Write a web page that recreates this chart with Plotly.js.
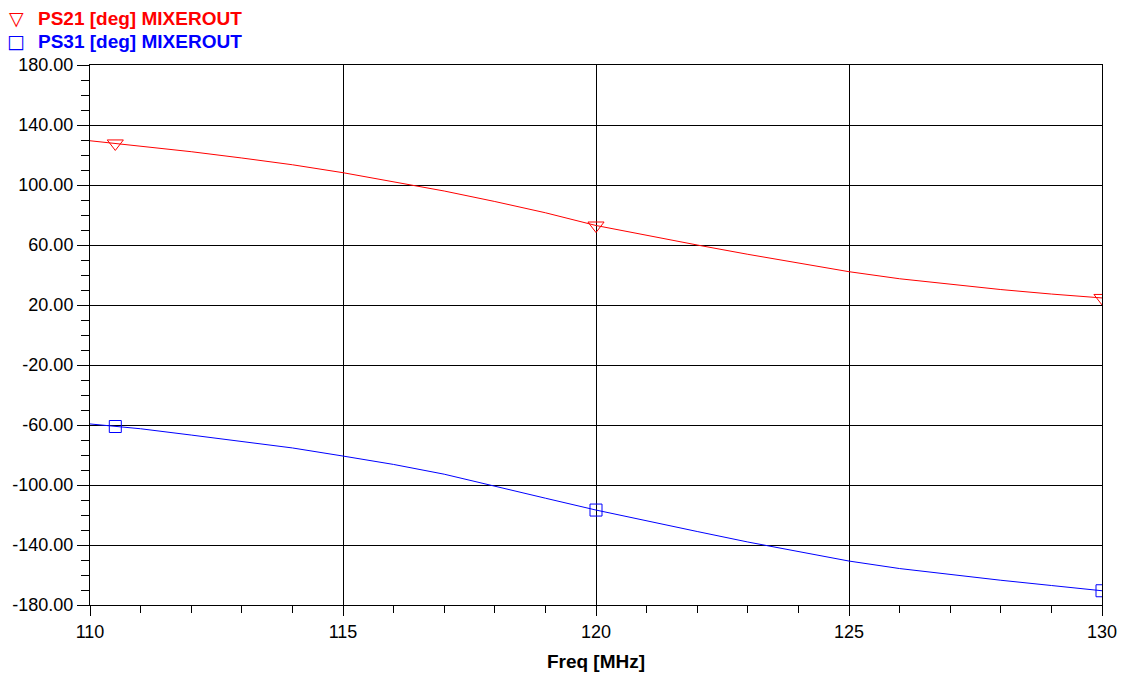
<!DOCTYPE html>
<html>
<head>
<meta charset="utf-8">
<script src="https://cdn.plot.ly/plotly-3.0.1.min.js"></script>
<style>html,body{margin:0;padding:0;background:#fff;}#chart{width:1123px;height:677px;}</style>
</head>
<body>
<div id="chart"></div>
<script>
// Data
const freq = [110,111,112,113,114,115,116,117,118,119,120,121,122,123,124,125,126,127,128,129,130];
const ps21 = [129.5,126,122.2,118,113.5,108.2,102.3,96,89,81.5,73,66.3,60,53.8,47.8,42.2,37.5,33.7,30.3,27.3,24.7];
const ps31 = [-59.3,-62.5,-66.7,-70.8,-75.3,-80.7,-86.3,-92.8,-101,-108.8,-116.7,-124,-131,-138,-144.5,-150.7,-155.7,-159.8,-163.5,-167,-170.5];
const markerFreq = [110.5,120,130];
const ps21Markers = [127.7,73,24.7];
const ps31Markers = [-61,-116.7,-170.5];
const name21 = 'PS21 [deg] MIXEROUT';
const name31 = 'PS31 [deg] MIXEROUT';
const yTicks = [180,140,100,60,20,-20,-60,-100,-140,-180];
const xTicks = [110,115,120,125,130];

const RED = '#ff0000', BLUE = '#0000ff';
const font = 'Arial, "Liberation Sans", sans-serif';

const traces = [
  {x: freq, y: ps21, mode: 'lines', name: name21, line: {color: RED, width: 1}, showlegend: false, hoverinfo: 'skip'},
  {x: freq, y: ps31, mode: 'lines', name: name31, line: {color: BLUE, width: 1}, showlegend: false, hoverinfo: 'skip'},
  {x: markerFreq, y: ps21Markers, mode: 'markers', name: name21, showlegend: false,
   marker: {symbol: 'triangle-down-open', size: 14, color: RED, line: {width: 1, color: RED}}},
  {x: markerFreq, y: ps31Markers, mode: 'markers', name: name31, showlegend: false,
   marker: {symbol: 'square-open', size: 12, color: BLUE, line: {width: 1, color: BLUE}}}
];

const legendItems = [
  {sym: '▽', text: name21, color: RED, y: 1.087},
  {sym: '□', text: name31, color: BLUE, y: 1.044}
];
const annotations = [];
legendItems.forEach(it => {
  annotations.push({xref: 'paper', yref: 'paper', x: -0.0731, y: it.y, xanchor: 'center', yanchor: 'middle',
    text: it.sym, showarrow: false, font: {family: 'DejaVu Sans, sans-serif', size: 19, color: it.color}});
  annotations.push({xref: 'paper', yref: 'paper', x: -0.0535, y: it.y, xanchor: 'left', yanchor: 'middle',
    text: '<b>' + it.text + '</b>', showarrow: false, font: {family: font, size: 19, color: it.color}});
});

const layout = {
  width: 1123, height: 677,
  margin: {l: 90, r: 21, t: 65, b: 72},
  paper_bgcolor: '#fff', plot_bgcolor: '#fff',
  font: {family: font, size: 18, color: '#000'},
  showlegend: false,
  annotations: annotations,
  xaxis: {
    automargin: false,
    range: [110, 130], tickvals: xTicks, ticktext: xTicks.map(String),
    showgrid: true, gridcolor: '#000', gridwidth: 1,
    showline: true, linecolor: '#000', linewidth: 1, mirror: true,
    ticks: 'outside', ticklen: 10, tickcolor: '#000',
    minor: {dtick: 1, ticks: 'outside', ticklen: 7, tickcolor: '#000', showgrid: false},
    zeroline: false, tickfont: {size: 18},
    title: {text: '<b>Freq [MHz]</b>', font: {size: 19}, standoff: 14}
  },
  yaxis: {
    automargin: false,
    range: [-180, 180], tickvals: yTicks, ticktext: yTicks.map(v => v.toFixed(2)),
    showgrid: true, gridcolor: '#000', gridwidth: 1,
    showline: true, linecolor: '#000', linewidth: 1, mirror: true,
    ticks: 'outside', ticklen: 12, tickcolor: '#000',
    minor: {dtick: 10, ticks: 'outside', ticklen: 8, tickcolor: '#000', showgrid: false},
    zeroline: false, tickfont: {size: 18}
  }
};

Plotly.newPlot('chart', traces, layout, {displayModeBar: false, staticPlot: true});
</script>
</body>
</html>
